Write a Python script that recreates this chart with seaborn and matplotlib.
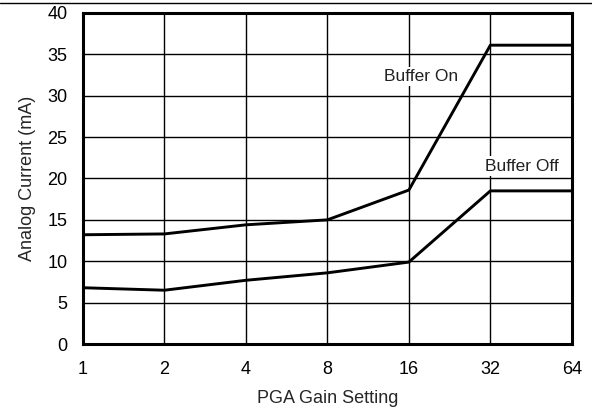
import numpy as np
import pandas as pd
import matplotlib
matplotlib.use("Agg")
import matplotlib.pyplot as plt
import seaborn as sns

# === Data ===
gain = [1, 2, 4, 8, 16, 32, 64]
buffer_on = [13.2, 13.3, 14.4, 15.0, 18.6, 36.1, 36.1]
buffer_off = [6.8, 6.5, 7.7, 8.6, 9.9, 18.5, 18.5]
tick_labels = ["1", "2", "4", "8", "16", "32", "64"]

df = pd.DataFrame({
    "gain": gain * 2,
    "current": buffer_on + buffer_off,
    "mode": ["Buffer On"] * len(gain) + ["Buffer Off"] * len(gain),
})

sns.set_style("white")
plt.rcParams["font.family"] = ["Liberation Sans", "DejaVu Sans"]

fig = plt.figure(figsize=(5.92, 4.16), dpi=100)
ax = fig.add_axes([0.140, 0.173, 0.826, 0.796])

sns.lineplot(data=df, x="gain", y="current", units="mode", estimator=None,
             color="black", linewidth=2.1, legend=False, ax=ax)

ax.set_xscale("log", base=2)
ax.set_xlim(1, 64)
ax.set_ylim(0, 40)
ax.set_xticks(gain)
ax.set_xticklabels(tick_labels)
ax.set_yticks(range(0, 41, 5))
ax.minorticks_off()
ax.tick_params(length=0, labelsize=13, colors="black")
ax.tick_params(axis="x", pad=12)
ax.tick_params(axis="y", pad=11)
ax.grid(True, color="black", linewidth=1.0)
for s in ax.spines.values():
    s.set_visible(True)
    s.set_color("black")
    s.set_linewidth(2.2)

ax.set_xlabel("PGA Gain Setting", fontsize=13, labelpad=9)
ax.set_ylabel("Analog Current (mA)", fontsize=13, labelpad=8)

# labels sit on a white box so they break the grid line like the original
ax.text(17.7, 32.3, "Buffer On", fontsize=12.5, color="#222222", ha="center", va="center",
        bbox=dict(facecolor="white", edgecolor="none", pad=1.5))
ax.text(42, 21.5, "Buffer Off", fontsize=12.5, color="#222222", ha="center", va="center",
        bbox=dict(facecolor="white", edgecolor="none", pad=1.5))

# header rule across the top of the figure
fig.add_artist(plt.Line2D([0, 1], [0.993, 0.993], color="black", linewidth=1.0))

fig.savefig("out.png", dpi=100)
